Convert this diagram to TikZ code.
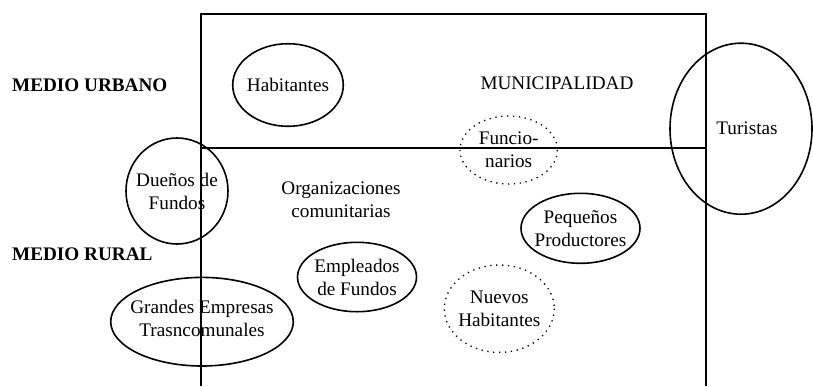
\documentclass[tikz,border=0pt]{standalone}
\usepackage{fontspec}
\setmainfont{Liberation Serif}
\begin{document}
\begin{tikzpicture}[x=1pt,y=-1pt,
  frame/.style={line width=1.6pt},
  ring/.style={line width=1.6pt},
  dotring/.style={line width=1.3pt, dash pattern=on 1.3pt off 4.6pt},
  lbl/.style={inner sep=0pt, align=center, font=\fontsize{19.2}{23}\selectfont},
  side/.style={inner sep=0pt, anchor=west, font=\fontsize{19.2}{23}\selectfont\bfseries}]
\useasboundingbox (0,0) rectangle (813,386);
% frame
\coordinate (tl) at (201,14);
\coordinate (tr) at (706,14);
\coordinate (ml) at (201,148);
\coordinate (mr) at (706,148);
\coordinate (bl) at (201,386);
\coordinate (br) at (706,386);
\draw[frame] (bl) -- (tl) -- (tr) -- (br);
\draw[frame] (ml) -- (mr);
% side labels
\node[side] (urb) at (12,85) {MEDIO URBANO};
\node[side] (rur) at (12,254) {MEDIO RURAL};
% plain labels
\node[lbl] (mun) at (557,83) {MUNICIPALIDAD};
\node[lbl] (org) at (341,200) {Organizaciones\\comunitarias};
% ellipses
\node[lbl] (hab) at (288,85) {Habitantes};
\draw[ring] (hab.center) ellipse [x radius=55.3, y radius=41.3];
\node[lbl] (due) at (177,191) {Dueños de\\Fundos};
\draw[ring] (due.center) ellipse [x radius=51, y radius=53];
\node[lbl] (fun) at (508.7,150) {Funcio-\\narios};
\draw[dotring] (fun.center) ellipse [x radius=48.7, y radius=34];
\node[lbl] (tur) at (747,128) {Turistas};
\draw[ring] (741,128.7) ellipse [x radius=71, y radius=85.5];
\node[lbl] (gra) at (202,318) {Grandes Empresas\\Trasncomunales};
\draw[ring] (202,321.7) ellipse [x radius=91.3, y radius=44.3];
\node[lbl] (emp) at (357,277) {Empleados\\de Fundos};
\draw[ring] (emp.center) ellipse [x radius=59.5, y radius=34.7];
\node[lbl] (peq) at (580.5,228.3) {Pequeños\\Productores};
\draw[ring] (peq.center) ellipse [x radius=59.5, y radius=35];
\node[lbl] (nue) at (499.3,308.7) {Nuevos\\Habitantes};
\draw[dotring] (nue.center) ellipse [x radius=55, y radius=43.7];
\end{tikzpicture}
\end{document}
